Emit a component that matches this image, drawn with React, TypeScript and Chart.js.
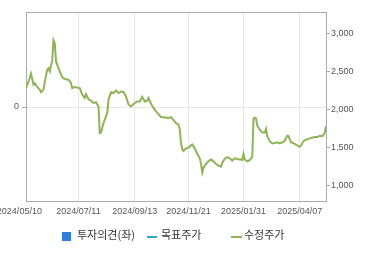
import React, { useEffect, useRef } from "react";
import { Chart, registerables } from "chart.js";

Chart.register(...registerables);

// Trading-day index (0 = 2024/05/10) and adjusted close price (수정주가)
const dayIdx = [
  0, 3, 4, 6, 7, 9, 11, 12, 14, 15, 17, 18, 19, 21, 22, 23, 24, 25, 27, 29, 31, 34, 36, 37, 39, 43, 45, 47, 48, 50,
  52, 54, 56, 58, 59, 60, 61, 62, 64, 65, 66, 68, 70, 72, 74, 76, 78, 80, 82, 84, 87, 89, 91, 93, 95, 97, 98, 100,
  102, 104, 106, 108, 111, 114, 116, 118, 120, 122, 123, 124, 125, 126, 128, 130, 132, 133, 135, 137, 139, 140, 141,
  142, 144, 146, 148, 150, 152, 154, 156, 157, 159, 161, 163, 165, 167, 169, 171, 173, 174, 175, 177, 179, 180, 181,
  182, 183, 184, 185, 187, 189, 191, 192, 193, 195, 197, 199, 201, 203, 205, 207, 209, 210, 212, 214, 216, 219, 220,
  222, 224, 226, 228, 231, 233, 235, 237, 239, 240,
];
const price = [
  2280, 2410, 2470, 2325, 2345, 2295, 2260, 2225, 2260, 2365, 2520, 2540, 2500, 2650, 2910, 2870, 2630, 2585, 2500,
  2425, 2400, 2390, 2345, 2280, 2295, 2280, 2195, 2150, 2200, 2135, 2115, 2085, 2095, 2040, 1690, 1700, 1760, 1820,
  1910, 1955, 2130, 2225, 2215, 2250, 2215, 2235, 2230, 2170, 2065, 2040, 2085, 2105, 2105, 2165, 2105, 2115, 2150,
  2075, 2020, 1975, 1940, 1900, 1895, 1890, 1900, 1860, 1820, 1800, 1740, 1560, 1475, 1455, 1490, 1500, 1530, 1542,
  1490, 1420, 1360, 1290, 1175, 1240, 1285, 1320, 1345, 1320, 1285, 1265, 1250, 1300, 1355, 1375, 1360, 1330, 1360,
  1350, 1345, 1340, 1420, 1345, 1320, 1335, 1360, 1375, 1880, 1895, 1880, 1790, 1735, 1700, 1695, 1745, 1650, 1585,
  1555, 1560, 1570, 1555, 1570, 1590, 1655, 1650, 1570, 1555, 1540, 1510, 1525, 1585, 1605, 1615, 1625, 1640, 1640,
  1655, 1650, 1695, 1780,
];

const xTickIdx = [-5.3, 42, 87, 130, 174, 219];
const xTickLabels = ["2024/05/10", "2024/07/11", "2024/09/13", "2024/11/21", "2025/01/31", "2025/04/07"];
const rightTicks = [1000, 1500, 2000, 2500, 3000];
const leftTicks = [0];

const legendItems = ["투자의견(좌)", "목표주가", "수정주가"];

const GREEN = "#8db556";
const BLUE = "#2d7de0";
const CYAN = "#27a8c4";
const TICK_FONT = { family: "'Liberation Sans', Arial, sans-serif", size: 9 };
const TICK_COLOR = "#555555";

const borderPlugin = {
  id: "plotBorder",
  beforeDatasetsDraw(chart: any) {
    const { ctx, chartArea } = chart;
    const l = Math.floor(chartArea.left) + 0.5;
    const r = Math.floor(chartArea.right) + 0.5;
    const t = Math.floor(chartArea.top) - 0.5;
    const b = Math.floor(chartArea.bottom) + 0.5;
    ctx.save();
    ctx.strokeStyle = "#aaaaaa";
    ctx.lineWidth = 1;
    ctx.strokeRect(l, t, r - l, b - t);
    ctx.restore();
  },
};

export default function App() {
  const ref = useRef<HTMLCanvasElement | null>(null);

  useEffect(() => {
    if (!ref.current) return;
    const points = dayIdx.map((d, i) => ({ x: d, y: price[i] }));
    const chart = new Chart(ref.current, {
      type: "line",
      data: {
        datasets: [
          { type: "bar", label: legendItems[0], data: [], backgroundColor: BLUE, yAxisID: "y" } as any,
          { label: legendItems[1], data: [], borderColor: CYAN, yAxisID: "y1", pointRadius: 0 },
          {
            label: legendItems[2],
            data: points,
            borderColor: GREEN,
            borderWidth: 2,
            pointRadius: 0,
            tension: 0,
            yAxisID: "y1",
          },
        ],
      },
      options: {
        responsive: false,
        animation: false,
        devicePixelRatio: 1,
        layout: { padding: { top: 13, left: 0, right: 0, bottom: 0 } },
        plugins: { legend: { display: false }, tooltip: { enabled: false } },
        scales: {
          x: {
            type: "linear",
            min: 0,
            max: 240,
            offset: false,
            afterBuildTicks: (s: any) => {
              s.ticks = xTickIdx.map((v) => ({ value: v }));
            },
            afterFit: (s: any) => {
              s.height = 54;
              s.paddingLeft = 0;
              s.paddingRight = 0;
            },
            ticks: {
              autoSkip: false,
              maxRotation: 0,
              padding: 5,
              font: TICK_FONT,
              color: TICK_COLOR,
              callback: (_v: any, i: number) => xTickLabels[i],
            },
            grid: {
              offset: false,
              drawTicks: false,
              color: (c: any) => (c.tick && c.tick.value <= 0 ? "rgba(0,0,0,0)" : "#e6e6e6"),
            },
            border: { display: false },
          },
          y: {
            type: "linear",
            position: "left",
            min: -1,
            max: 1,
            afterBuildTicks: (s: any) => {
              s.ticks = leftTicks.map((v) => ({ value: v }));
            },
            afterFit: (s: any) => {
              s.width = 26;
            },
            ticks: { padding: 3, font: TICK_FONT, color: TICK_COLOR, callback: (v: any) => String(v) },
            grid: { color: "#e6e6e6", tickColor: "#aaaaaa", tickLength: 4 },
            border: { display: false },
          },
          y1: {
            type: "linear",
            position: "right",
            min: 800,
            max: 3265,
            afterBuildTicks: (s: any) => {
              s.ticks = rightTicks.map((v) => ({ value: v }));
            },
            afterFit: (s: any) => {
              s.width = 44;
            },
            ticks: {
              padding: 1,
              font: TICK_FONT,
              color: TICK_COLOR,
              callback: (v: any) => Number(v).toLocaleString("en-US"),
            },
            grid: { drawOnChartArea: false, tickColor: "#aaaaaa", tickLength: 4 },
            border: { display: false },
          },
        },
      },
      plugins: [borderPlugin],
    });
    return () => chart.destroy();
  }, []);

  const legendFont: React.CSSProperties = {
    position: "absolute",
    top: 228,
    height: 13,
    lineHeight: "13px",
    fontSize: 11,
    fontFamily: "'Noto Sans CJK KR', 'Noto Sans', sans-serif",
    color: "#333333",
    whiteSpace: "nowrap",
  };

  return (
    <div style={{ position: "absolute", left: 0, top: 0, width: 370, height: 255, background: "#fff" }}>
      <canvas ref={ref} width={370} height={255} style={{ display: "block" }} />
      <div style={{ position: "absolute", left: 62, top: 232, width: 9, height: 9, background: BLUE }} />
      <div style={{ ...legendFont, left: 77 }}>{legendItems[0]}</div>
      <div style={{ position: "absolute", left: 147, top: 236, width: 10, height: 2, background: CYAN }} />
      <div style={{ ...legendFont, left: 161 }}>{legendItems[1]}</div>
      <div style={{ position: "absolute", left: 231, top: 236, width: 11, height: 2, background: GREEN }} />
      <div style={{ ...legendFont, left: 244 }}>{legendItems[2]}</div>
    </div>
  );
}
